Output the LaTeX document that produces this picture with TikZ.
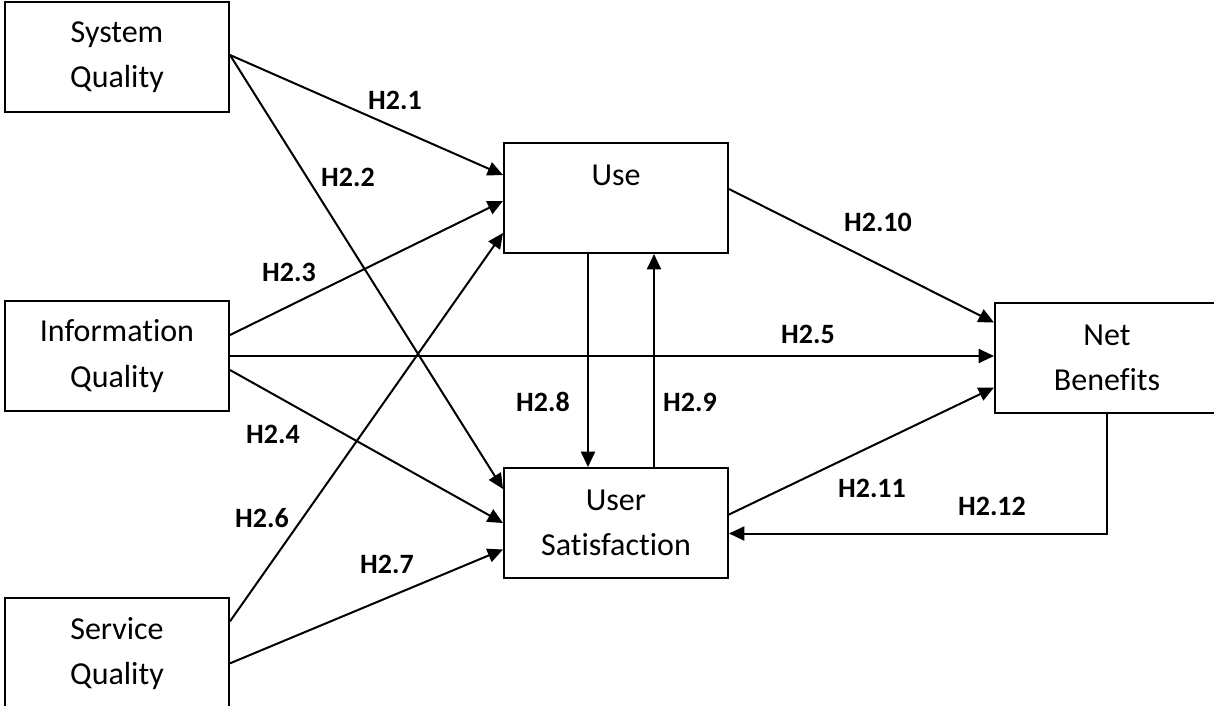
\documentclass[tikz,border=0pt]{standalone}
\usepackage{fontspec}
\setmainfont{Carlito}[Ligatures={NoCommon}]
\usetikzlibrary{arrows.meta,calc,positioning}

\begin{document}
\begin{tikzpicture}[x=0.75pt,y=-0.75pt]
\tikzstyle{main}=[rectangle, draw=black, line width=1.5pt, minimum width=168pt, minimum height=82.5pt, inner sep=0pt, align=center, font=\fontsize{24}{34}\selectfont]
\tikzstyle{hyp}=[inner sep=0pt, font=\fontsize{21}{25}\selectfont\bfseries]
\tikzstyle{connect}=[-{Triangle[length=11.5pt,width=10.5pt]}, line width=1.5pt]
\useasboundingbox (0,0) rectangle (1214,706);
  \node[main] (sysq) at (117,57) {System\\Quality};
  \node[main] (infoq) [below=140.25pt of sysq] {Information\\Quality};
  \node[main] (servq) [below=139pt of infoq] {Service\\Quality};
  \node[main] (use) [below right=21.75pt and 204.75pt of sysq] {Use\\\mbox{}};
  \node[main] (usat) [below=159.75pt of use] {User\\Satisfaction};
  \node[main] (netb) [below right=36pt and 198.75pt of use] {Net\\Benefits};
% hypothesis labels
  \node[hyp] (h21) at (395,100) {H2.1};
  \node[hyp] (h22) at (348,177) {H2.2};
  \node[hyp] (h23) at (289,272) {H2.3};
  \node[hyp] (h24) at (273,434) {H2.4};
  \node[hyp] (h25) at (808,334) {H2.5};
  \node[hyp] (h26) at (262,518) {H2.6};
  \node[hyp] (h27) at (387,564) {H2.7};
  \node[hyp] (h28) at (543,402) {H2.8};
  \node[hyp] (h29) at (690,402) {H2.9};
  \node[hyp] (h210) at (878,222) {H2.10};
  \node[hyp] (h211) at (872,488) {H2.11};
  \node[hyp] (h212) at (992,506) {H2.12};
% paths
  \draw[connect] ($(sysq.east)+(0,-2)$) -- ($(use.west)+(0,-23)$);
  \draw[connect] ($(sysq.east)+(0,-2)$) -- ($(usat.west)+(0,-34)$);
  \draw[connect] ($(infoq.east)+(0,-21)$) -- ($(use.west)+(0,3)$);
  \draw[connect] ($(infoq.east)+(0,14)$) -- (usat.west);
  \draw[connect] (infoq.east) -- (infoq.east -| netb.west);
  \draw[connect] ($(servq.east)+(0,-32)$) -- ($(use.west)+(0,35)$);
  \draw[connect] ($(servq.east)+(0,10)$) -- ($(usat.west)+(0,26.5)$);
  \draw[connect] ($(use.south)+(-28,0)$) -- ($(usat.north)+(-28,0)$);
  \draw[connect] ($(usat.north)+(38,0)$) -- ($(use.south)+(38,0)$);
  \draw[connect] ($(use.east)+(0,-9)$) -- ($(netb.west)+(0,-35.5)$);
  \draw[connect] ($(usat.east)+(0,-8.5)$) -- ($(netb.west)+(0,29.5)$);
  \draw[connect] (netb.south) |- ($(usat.east)+(0,10.5)$);
\end{tikzpicture}
\end{document}
